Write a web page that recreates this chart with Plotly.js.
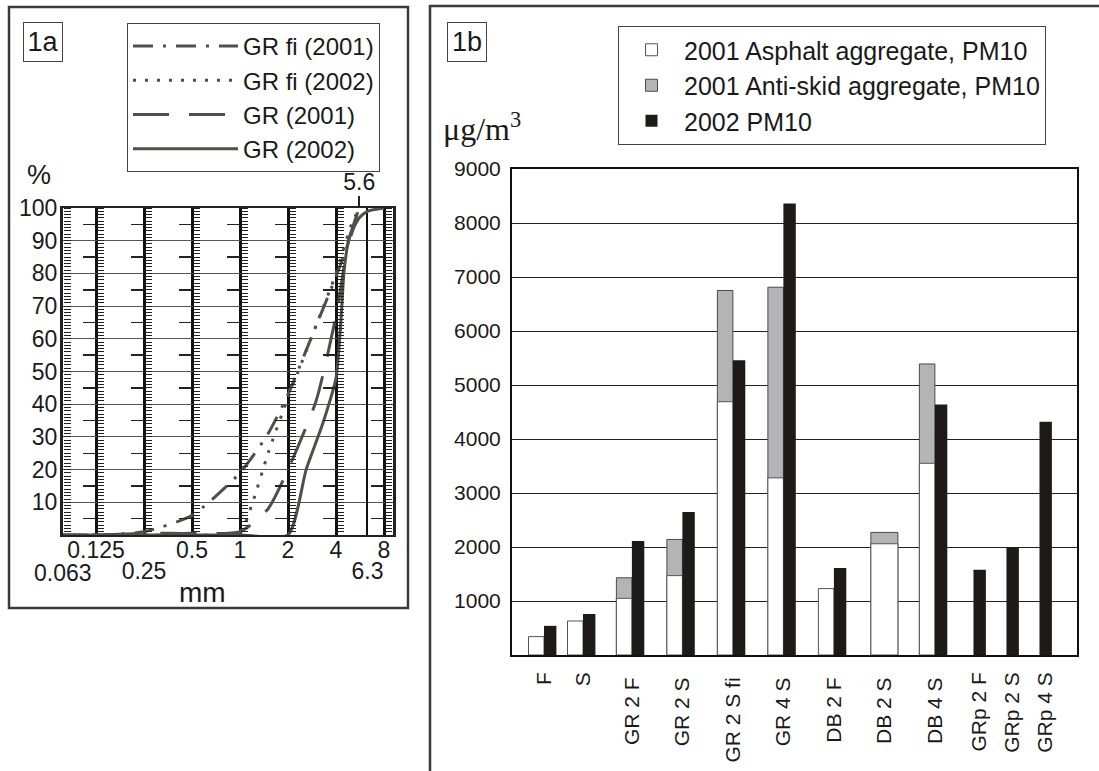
<!DOCTYPE html>
<html><head><meta charset="utf-8">
<script src="https://cdn.plot.ly/plotly-3.0.1.min.js"></script>
<style>html,body{margin:0;padding:0;background:#fff}#chart{width:1099px;height:771px}</style>
</head><body><div id="chart"></div>
<script>
// ---------- Panel 1a: grading curves (sieve size in mm, % passing) ----------
const sieveGRfi2001 = [0.063, 0.125, 0.25, 0.5, 1, 1.5, 2, 3, 4, 5, 5.6];
const passGRfi2001  = [0, 0, 1, 6, 19, 31, 43, 64, 79, 92, 100];
const sieveGRfi2002 = [0.063, 0.125, 0.25, 0.5, 1, 1.2, 1.5, 2, 3, 4, 5, 5.6];
const passGRfi2002  = [0, 0, 0, 0, 1, 10, 25, 42, 64, 80, 95, 100];
const sieveGR2001   = [0.063, 0.125, 0.25, 0.5, 1, 1.5, 2, 3, 4, 4.8, 5.6];
const passGR2001    = [0, 0, 0.5, 0.5, 1, 8, 20, 41, 67, 90, 100];
const sieveGR2002   = [0.063, 0.125, 0.25, 0.5, 1, 2, 2.6, 3.3, 4, 4.3, 4.5, 4.85, 5.6, 6.3, 8];
const passGR2002    = [0, 0, 0, 0, 0, 0, 20, 34, 48, 66, 81, 91, 97, 99, 100];
const curveNames    = ['GR fi (2001)', 'GR fi (2002)', 'GR (2001)', 'GR (2002)'];

const sieveTicksRow1 = [0.125, 0.5, 1, 2, 4, 8];   // main sieves, upper label row
const sieveTickMid   = [0.25];                     // main sieve, lower label row
const sieveTickThin  = [6.3];                      // secondary sieve, lower label row
const sieveLines     = [0.125, 0.25, 0.5, 1, 2, 4, 8];
const sieveTop       = [5.6];
const sieveFirst     = 0.063;
const percentTicks   = [10, 20, 30, 40, 50, 60, 70, 80, 90, 100];

// ---------- Panel 1b: PM10 concentrations (µg/m3) ----------
const categories   = ['F', 'S', 'GR 2 F', 'GR 2 S', 'GR 2 S fi', 'GR 4 S', 'DB 2 F', 'DB 2 S', 'DB 4 S', 'GRp 2 F', 'GRp 2 S', 'GRp 4 S'];
const asphalt2001  = [340, 630, 1050, 1470, 4690, 3280, 1230, 2060, 3550, null, null, null];
const antiskid2001 = [null, null, 1430, 2140, 6750, 6810, null, 2270, 5390, null, null, null];
const pm10_2002    = [540, 760, 2110, 2650, 5460, 8360, 1610, null, 4640, 1580, 1990, 4320];
const seriesNames  = ['2001 Asphalt aggregate, PM10', '2001 Anti-skid aggregate, PM10', '2002 PM10'];
const concTicks    = [1000, 2000, 3000, 4000, 5000, 6000, 7000, 8000, 9000];

// ---------- layout helpers ----------
const W = 1099, H = 771;
const FONT = 'Liberation Sans, Arial, sans-serif';
const TXT = '#1a1a1a';
const px = v => v / W;
const py = v => 1 - v / H;

// left plot box
const LX0 = 63, LX1 = 393, LY0 = 208, LY1 = 535;
const logRange = [-1.11007, 0.95955];
const fracLog = s => (LX0 + (Math.log10(s) - logRange[0]) / (logRange[1] - logRange[0]) * (LX1 - LX0)) / W;

// right plot box
const RX0 = 512, RX1 = 1077, RY0 = 169, RY1 = 655;

const data = [];
const curveColor = '#4f4f4b';
const curves = [
  [sieveGRfi2001, passGRfi2001, '20px,10px,3px,10px'],
  [sieveGRfi2002, passGRfi2002, '3px,9px'],
  [sieveGR2001, passGR2001, '36px,20px'],
  [sieveGR2002, passGR2002, 'solid']
];
curves.forEach((c, i) => {
  data.push({
    type: 'scatter', mode: 'lines', x: c[0], y: c[1], name: curveNames[i],
    xaxis: 'x', yaxis: 'y', legend: 'legend',
    line: {color: curveColor, width: 3, dash: c[2], shape: 'spline', smoothing: 0.6},
    hoverinfo: 'skip'
  });
});
// dummy traces so overlay axes exist
['x5', 'x6', 'x7'].forEach(xa => data.push({type: 'scatter', x: [], y: [], xaxis: xa, yaxis: 'y', showlegend: false, hoverinfo: 'skip'}));

// ---------- bars ----------
const groups = [
  {from: 0, to: 2, axis: 'x3', unit: 39},
  {from: 2, to: 9, axis: 'x2', unit: 50.5},
  {from: 9, to: 12, axis: 'x4', unit: 33}
];
const WHITE_W = 15.5, WIDE_W = 27, BLACK_W = 12.4;
groups.forEach(g => {
  const cats = categories.slice(g.from, g.to);
  const a = asphalt2001.slice(g.from, g.to);
  const s = antiskid2001.slice(g.from, g.to);
  const b = pm10_2002.slice(g.from, g.to);
  const wW = cats.map((c, i) => (b[i] === null ? WIDE_W : WHITE_W) / g.unit);
  const wOff = cats.map((c, i) => (b[i] === null ? -WIDE_W / 2 : -WHITE_W) / g.unit);
  const bOff = cats.map((c, i) => (a[i] === null ? -BLACK_W / 2 : 0) / g.unit);
  const main = g.axis === 'x2';
  data.push({type: 'bar', x: cats, y: s, name: seriesNames[1], xaxis: g.axis, yaxis: 'y2',
    width: wW, offset: wOff, marker: {color: '#b4b4b7', line: {color: '#4a4a4a', width: 1}},
    legend: 'legend2', legendrank: 2, showlegend: main, hoverinfo: 'skip'});
  data.push({type: 'bar', x: cats, y: a, name: seriesNames[0], xaxis: g.axis, yaxis: 'y2',
    width: wW, offset: wOff, marker: {color: '#ffffff', line: {color: '#555555', width: 1}},
    legend: 'legend2', legendrank: 1, showlegend: main, hoverinfo: 'skip'});
  data.push({type: 'bar', x: cats, y: b, name: seriesNames[2], xaxis: g.axis, yaxis: 'y2',
    width: cats.map(() => BLACK_W / g.unit), offset: bOff,
    marker: {color: '#1e1a19', line: {color: '#1e1a19', width: 0}},
    legend: 'legend2', legendrank: 3, showlegend: main, hoverinfo: 'skip'});
});

const tickFont = {family: FONT, size: 23, color: TXT};
const ann = (text, x, y, size, extra) => Object.assign({text: text, xref: 'paper', yref: 'paper',
  x: px(x), y: py(y), xanchor: 'center', yanchor: 'middle', showarrow: false,
  font: {family: FONT, size: size, color: TXT}}, extra || {});
const sieveOverlay = (vals, gw, standoff, side, extra) => Object.assign({overlaying: 'x', anchor: 'y', side: side,
  type: 'log', range: logRange, tickvals: vals, ticktext: vals.map(String),
  showgrid: gw > 0, gridcolor: '#111', gridwidth: Math.max(gw, 1), ticks: '', tickfont: tickFont,
  ticklabelstandoff: standoff, showline: false, zeroline: false}, extra || {});

const layout = {
  width: W, height: H, autosize: false,
  margin: {l: 0, r: 0, t: 0, b: 0},
  paper_bgcolor: '#fff', plot_bgcolor: '#fff',
  barmode: 'overlay', showlegend: true, hovermode: false,
  font: {family: FONT, color: TXT},
  // left panel
  xaxis: {domain: [px(LX0), px(LX1)], anchor: 'y', type: 'log', range: logRange,
    tickvals: sieveTicksRow1, ticktext: sieveTicksRow1.map(String),
    showgrid: true, gridcolor: '#111', gridwidth: 3, ticks: '', tickfont: tickFont, ticklabelstandoff: -7,
    showline: true, mirror: true, linecolor: '#222', linewidth: 2, zeroline: false},
  xaxis5: sieveOverlay(sieveTickMid, 3, 20, 'bottom'),
  xaxis7: sieveOverlay(sieveTickThin, 2, 20, 'bottom'),
  xaxis6: sieveOverlay(sieveTop, 0, -3, 'top', {ticks: 'outside', ticklen: 11, tickwidth: 2, tickcolor: '#222'}),
  yaxis: {domain: [py(LY1), py(LY0)], anchor: 'x', range: [0, 100], tickvals: percentTicks,
    showgrid: true, gridcolor: '#555', gridwidth: 1, ticks: '', tickfont: tickFont, ticklabelstandoff: -2,
    showline: true, mirror: true, linecolor: '#222', linewidth: 3, zeroline: false},
  // right panel
  xaxis2: {domain: [px(RX0), px(RX1)], anchor: 'y2', type: 'category',
    categoryorder: 'array', categoryarray: categories.slice(2, 9), range: [-2.374, 8.814],
    tickangle: -90, ticks: '', ticklabelstandoff: 12, tickfont: {family: FONT, size: 21, color: TXT},
    showgrid: false, showline: true, mirror: true, linecolor: '#111', linewidth: 2, zeroline: false},
  xaxis3: {overlaying: 'x2', anchor: 'y2', type: 'category', categoryorder: 'array',
    categoryarray: categories.slice(0, 2), range: [-0.8205, 13.667],
    tickangle: -90, ticks: '', ticklabelstandoff: 12, tickfont: {family: FONT, size: 21, color: TXT},
    showgrid: false, showline: false, zeroline: false},
  xaxis4: {overlaying: 'x2', anchor: 'y2', type: 'category', categoryorder: 'array',
    categoryarray: categories.slice(9, 12), range: [-14.17, 2.949],
    tickangle: -90, ticks: '', ticklabelstandoff: 12, tickfont: {family: FONT, size: 21, color: TXT},
    showgrid: false, showline: false, zeroline: false},
  yaxis2: {domain: [py(RY1), py(RY0)], anchor: 'x2', range: [0, 9000], tickvals: concTicks,
    showgrid: true, gridcolor: '#222', gridwidth: 1, ticks: '', ticklabelstandoff: 5,
    tickfont: {family: FONT, size: 21, color: TXT},
    showline: true, mirror: true, linecolor: '#111', linewidth: 2, zeroline: false},
  legend: {x: px(127), y: py(23), xanchor: 'left', yanchor: 'top', bgcolor: '#fff',
    bordercolor: '#444', borderwidth: 1, font: {family: FONT, size: 24, color: TXT},
    itemwidth: 105, tracegroupgap: 0},
  legend2: {x: px(618), y: py(26), xanchor: 'left', yanchor: 'top', bgcolor: '#fff',
    bordercolor: '#444', borderwidth: 1, font: {family: FONT, size: 25, color: TXT},
    itemwidth: 55, traceorder: 'normal', tracegroupgap: 0},
  shapes: [
    {type: 'rect', xref: 'paper', yref: 'paper', x0: px(9), x1: px(408), y0: py(608), y1: py(7),
      line: {color: '#3a3a3a', width: 2.5}},
    {type: 'rect', xref: 'paper', yref: 'paper', x0: px(430), x1: 1.05, y0: -0.1, y1: py(6),
      line: {color: '#3a3a3a', width: 2.5}}
  ],
  annotations: [
    ann('1a', 43, 42, 27, {bordercolor: '#444', borderwidth: 1, width: 38, height: 38, borderpad: 0}),
    ann('1b', 467, 42, 27, {bordercolor: '#444', borderwidth: 1, width: 38, height: 38, borderpad: 0}),
    ann('%', 39, 175, 27),
    ann('mm', 202, 592, 28),
    ann(String(sieveFirst), LX0, 573, 23),
    ann('μg/m<sup>3</sup>', 482, 127, 32, {font: {family: 'Liberation Serif, Times New Roman, serif', size: 32, color: TXT}})
  ]
};

// ruler ticks along each sieve line (percentage scale marks)
const rulerPositions = [LX0 / W].concat(sieveLines.map(fracLog));
let yi = 3;
const halfTicks = [5, 15, 25, 35, 45, 55, 65, 75, 85, 95];
rulerPositions.forEach((p, k) => {
  layout['yaxis' + yi] = {overlaying: 'y', anchor: 'free', position: p, side: 'right', range: [0, 100],
    tick0: 0, dtick: 1, ticks: 'outside', ticklen: 7, tickwidth: 1, tickcolor: '#222',
    showticklabels: false, showgrid: false, zeroline: false, showline: false};
  data.push({type: 'scatter', x: [], y: [], xaxis: 'x', yaxis: 'y' + yi, showlegend: false, hoverinfo: 'skip'});
  yi++;
  if (k > 0) {
    layout['yaxis' + yi] = {overlaying: 'y', anchor: 'free', position: p, side: 'left', range: [0, 100],
      tickvals: halfTicks, ticks: 'outside', ticklen: 13, tickwidth: 1.5, tickcolor: '#222',
      showticklabels: false, showgrid: false, zeroline: false, showline: false};
    data.push({type: 'scatter', x: [], y: [], xaxis: 'x', yaxis: 'y' + yi, showlegend: false, hoverinfo: 'skip'});
    yi++;
  }
});

Plotly.newPlot('chart', data, layout, {staticPlot: true, displayModeBar: false});
</script>
</body></html>
